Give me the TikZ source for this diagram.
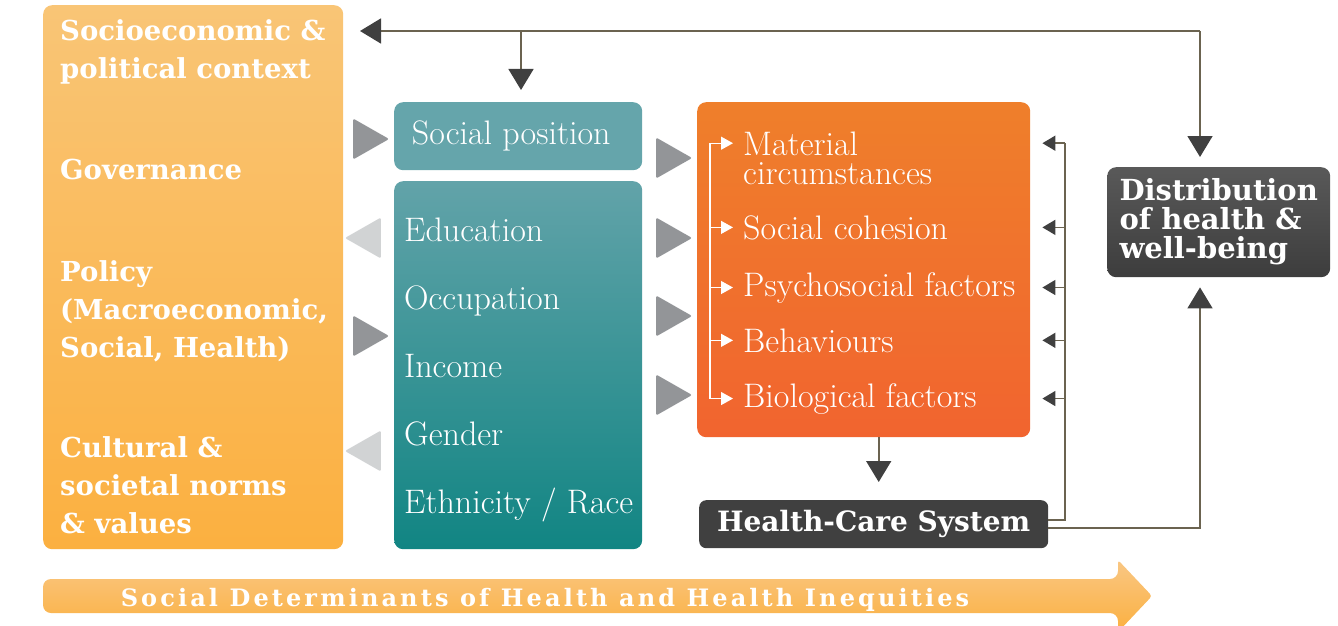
\documentclass[tikz,border=0pt]{standalone}
\usepackage{fontspec}
\newfontfamily\slabfont{DejaVu Serif}
\newfontfamily\bandfont[LetterSpace=13]{DejaVu Serif}
\usepackage{xcolor}
\usepackage{tikz}
\usetikzlibrary{positioning,shapes.geometric,arrows.meta}

\definecolor{ctxtop}{HTML}{F9C576}
\definecolor{ctxbot}{HTML}{FBB040}
\definecolor{spos}{HTML}{65A5AB}
\definecolor{tealtop}{HTML}{62A3A9}
\definecolor{tealbot}{HTML}{118583}
\definecolor{mattop}{HTML}{EF7F2B}
\definecolor{matbot}{HTML}{F1642F}
\definecolor{darkbox}{HTML}{404040}
\definecolor{disttop}{HTML}{595959}
\definecolor{distbot}{HTML}{3D3D3D}
\definecolor{bandtop}{HTML}{F9C784}
\definecolor{bandbot}{HTML}{FBB040}
\definecolor{arrowgrey}{HTML}{939598}
\definecolor{arrowpale}{HTML}{D1D3D4}
\definecolor{linkc}{HTML}{6B6350}
\definecolor{headc}{HTML}{404040}

\tikzset{
  panel/.style={rounded corners=9pt, inner sep=0pt, anchor=north west},
  boldtxt/.style={text=white, font=\slabfont\bfseries\fontsize{27.5}{38}\selectfont, align=left, inner sep=0pt, anchor=base west},
  lighttxt/.style={text=white, font=\fontsize{34}{29}\selectfont, align=left, inner sep=0pt, anchor=base west},
  fwd/.style={isosceles triangle, isosceles triangle stretches, minimum width=41pt, minimum height=36pt, inner sep=0pt, fill=arrowgrey, rounded corners=2pt},
  bwd/.style={fwd, shape border rotate=180, fill=arrowpale},
  link/.style={draw=linkc, line width=1.6pt},
  bighead/.style={-{Triangle[length=21pt,width=25pt,color=headc]}},
  smallhead/.style={-{Triangle[length=13pt,width=15pt,color=headc]}},
  pointer/.style={white, line width=1.2pt, -{Triangle[length=12pt,width=13pt]}}
}

\begin{document}
\begin{tikzpicture}[x=1pt,y=-1pt]
    \useasboundingbox (0,0) rectangle (1338,626);

    % boxes
    \node[panel, top color=ctxtop, bottom color=ctxbot, minimum width=300pt, minimum height=544pt] (context) at (43,5) {};
    \node[panel, fill=spos, minimum width=248pt, minimum height=68pt, text=white, font=\fontsize{34}{34}\selectfont] (socpos) at (394,102) {\hspace*{-14pt}Social position};
    \node[panel, top color=tealtop, bottom color=tealbot, minimum width=248pt, minimum height=368pt] (strat) at (394,181) {};
    \node[panel, top color=mattop, bottom color=matbot, minimum width=333pt, minimum height=335pt] (inter) at (697,102) {};
    \node[panel, rounded corners=7pt, fill=darkbox, minimum width=349pt, minimum height=48pt, text=white, font=\slabfont\bfseries\fontsize{28}{30}\selectfont] (hcs) at (699,500) {Health-Care System};
    \node[panel, top color=disttop, bottom color=distbot, minimum width=223pt, minimum height=110pt, text=white, align=left, font=\slabfont\bfseries\fontsize{29}{29}\selectfont] (dist) at (1107,167) {Distribution\\of health \&\\well-being};

    % context texts
    \node[boldtxt] (socio) at (60,78) {Socioeconomic \&\\political context};
    \node[boldtxt] (gov) at (60,179) {Governance};
    \node[boldtxt] (policy) at (60,357) {Policy\\(Macroeconomic,\\Social, Health)};
    \node[boldtxt] (norms) at (60,533) {Cultural \&\\societal norms\\\& values};

    % structural determinants
    \node[lighttxt] (edu) at (404,241) {Education};
    \node[lighttxt] (occ) at (404,309) {Occupation};
    \node[lighttxt] (inc) at (404,377) {Income};
    \node[lighttxt] (gen) at (404,445) {Gender};
    \node[lighttxt] (eth) at (404,513) {Ethnicity / Race};

    % intermediary determinants
    \node[lighttxt] (material) at (743,184) {Material\\circumstances};
    \node[lighttxt] (cohesion) at (743,239) {Social cohesion};
    \node[lighttxt] (psycho) at (743,296) {Psychosocial factors};
    \node[lighttxt] (behav) at (743,352) {Behaviours};
    \node[lighttxt] (bio) at (743,407) {Biological factors};
    \coordinate (matline) at ([yshift=-12pt]material.north west);

    \coordinate (spine) at (710,0);
    \draw[white, line width=1.2pt] (spine |- matline) -- (spine |- bio.west);
    \foreach \item in {matline,cohesion.west,psycho.west,behav.west,bio.west}
        \draw[pointer] (spine |- \item) -- ([xshift=-10pt]\item);

    % grey arrows
    \node[fwd] (a1) at (365,139) {};
    \node[bwd] (a2) at (369,238) {};
    \node[fwd] (a3) at (365,336) {};
    \node[bwd] (a4) at (369,451) {};
    \foreach \y [count=\i] in {158,238,316,395}
        \node[fwd] (b\i) at (668,\y) {};

    % feedback lines
    \coordinate (corner) at (1200,31);
    \coordinate (leftend) at (360,31);
    \coordinate (branch) at (521,31);
    \draw[link, bighead] (corner) -- (leftend);
    \draw[link, bighead, shorten >=10pt] (corner) -- (corner |- dist.north);
    \draw[link, bighead, shorten >=12pt] (branch) -- (branch |- socpos.north);

    \coordinate (rail) at (1065,0);
    \draw[link] ([yshift=4pt]hcs.east) -| (rail |- matline);
    \foreach \item in {matline,cohesion.west,psycho.west,behav.west,bio.west}
        \draw[link, smallhead] (rail |- \item) -- ([xshift=12pt]inter.east |- \item);
    \draw[link, bighead, shorten >=10pt] ([yshift=-4pt]hcs.east) -| (corner |- dist.south);
    \draw[link, bighead, shorten >=18pt] ([xshift=15pt]inter.south) -- ([xshift=15pt]inter.south |- hcs.north);

    % bottom band
    \shade[top color=bandtop, bottom color=bandbot, rounded corners=8pt] (43,579) -- (1118,579) [rounded corners=3pt] -- (1118,560) -- (1152,596) -- (1118,632) [rounded corners=8pt] -- (1118,613) -- (43,613) -- cycle;
    \node[text=white, inner sep=0pt, anchor=base, font=\bandfont\bfseries\fontsize{24}{24}\selectfont] (sdh) at (545,606) {Social Determinants of Health and Health Inequities};
\end{tikzpicture}
\end{document}
